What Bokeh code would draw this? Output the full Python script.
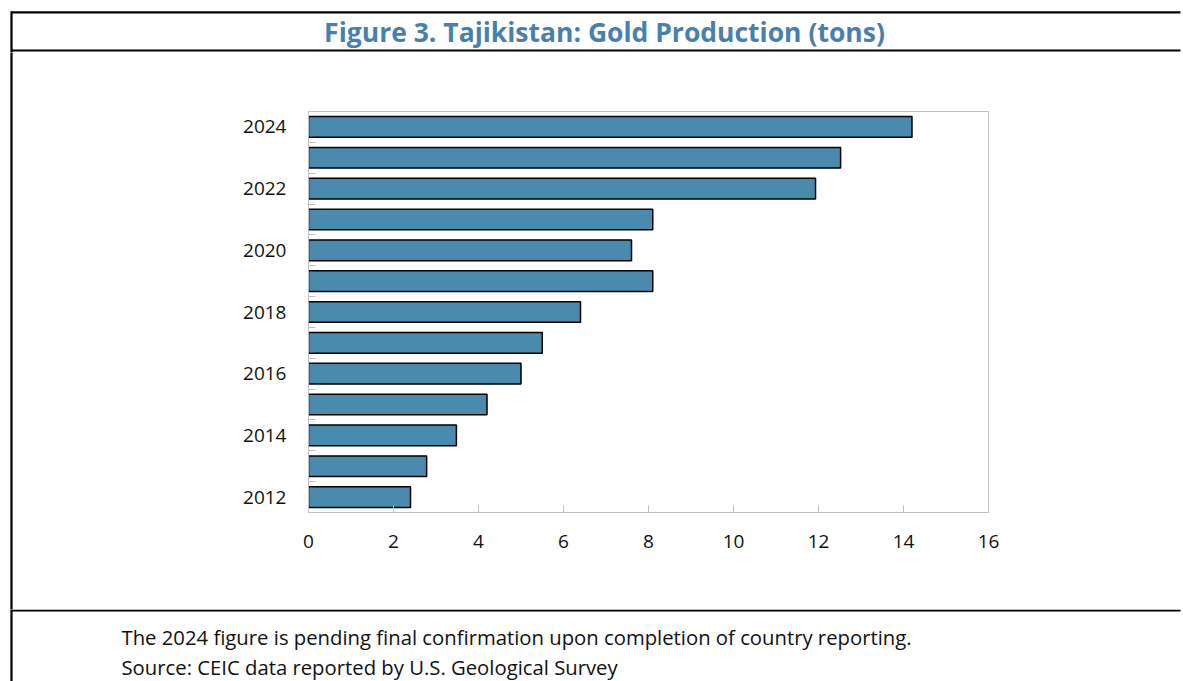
from bokeh.plotting import figure
from bokeh.layouts import column, row
from bokeh.models import Range1d, FixedTicker, ColumnDataSource
from bokeh.core.properties import value
from bokeh.embed import file_html
from bokeh.resources import INLINE

years = [2012, 2013, 2014, 2015, 2016, 2017, 2018, 2019, 2020, 2021, 2022, 2023, 2024]
gold_tons = [2.4, 2.78, 3.48, 4.2, 5.0, 5.5, 6.4, 8.1, 7.6, 8.1, 11.93, 12.52, 14.2]
y_tick_years = [2012, 2014, 2016, 2018, 2020, 2022, 2024]
x_ticks = [0, 2, 4, 6, 8, 10, 12, 14, 16]
title_text = "Figure 3. Tajikistan: Gold Production (tons)"
note_lines = [
    "The 2024 figure is pending final confirmation upon completion of country reporting.",
    "Source: CEIC data reported by U.S. Geological Survey",
]

FONT = "Open Sans"
BAR = "#4a8aad"
TITLE_C = "#4a7fab"
GRID = "#bfbfbf"
TXT = "#111111"
LW = 2.2

W = 1183
SW = W           # width of the title / footnote strips
LINE_END = W - 3 # horizontal rules stop just short of the right edge
TOP_H = 52       # title strip: page y 0..52
MAIN_H = 557     # chart strip: page y 52..609
FOOT_H = 72      # footnote strip: page y 609..681
STRIP_W = 20     # left border strip beside the chart
BORDER_X = 11


def canvas_fig(w, h):
    f = figure(width=w, height=h, output_backend="svg", toolbar_location=None,
               x_range=Range1d(0, w), y_range=Range1d(h, 0),
               x_axis_type=None, y_axis_type=None,
               min_border=0, min_border_left=0, min_border_right=0,
               min_border_top=0, min_border_bottom=0, frame_align=False)
    f.grid.visible = False
    f.outline_line_color = None
    f.background_fill_color = "white"
    f.border_fill_color = "white"
    return f


# --- title strip
top = canvas_fig(SW, TOP_H)
top.segment(x0=[BORDER_X, BORDER_X], y0=[11.8, 50.0], x1=[LINE_END, LINE_END], y1=[11.8, 50.0],
            line_color="black", line_width=LW)
top.segment(x0=[BORDER_X], y0=[10.8], x1=[BORDER_X], y1=[TOP_H + 5],
            line_color="black", line_width=LW)
top.text(x=[604], y=[31.5], text=[title_text], text_align="center",
         text_baseline="middle", text_font=value(FONT), text_font_style="bold",
         text_font_size="26.5px", text_color=TITLE_C)

# --- left border strip beside the chart
strip = canvas_fig(STRIP_W, MAIN_H)
strip.segment(x0=[BORDER_X], y0=[-5], x1=[BORDER_X], y1=[MAIN_H + 5],
              line_color="black", line_width=LW)

# --- main chart
ML = 308 - STRIP_W
MR = W - 988
MT = 111 - TOP_H
MB = (TOP_H + MAIN_H) - 512

p = figure(width=W - STRIP_W, height=MAIN_H, output_backend="svg", toolbar_location=None,
           x_range=Range1d(0, 16), y_range=Range1d(2011.5, 2024.5),
           min_border_left=ML, min_border_right=MR, min_border_top=MT, min_border_bottom=MB,
           frame_align=False)
p.xgrid.visible = False
p.ygrid.visible = False
p.outline_line_color = GRID
p.outline_line_width = 1
p.background_fill_color = "white"
p.border_fill_color = "white"

src = ColumnDataSource(dict(y=years, v=gold_tons))
p.hbar(y="y", right="v", left=0, height=0.67, source=src,
       fill_color=BAR, line_color="black", line_width=1.5)

p.xaxis.ticker = FixedTicker(ticks=x_ticks)
p.xaxis.axis_line_color = GRID
p.xaxis.major_tick_line_color = GRID
p.xaxis.major_tick_in = 7
p.xaxis.major_tick_out = 0
p.xaxis.minor_tick_line_color = None
p.xaxis.major_label_text_font = FONT
p.xaxis.major_label_text_font_size = "19px"
p.xaxis.major_label_text_color = TXT
p.xaxis.major_label_standoff = 22

p.yaxis.ticker = FixedTicker(ticks=y_tick_years,
                             minor_ticks=[y + 0.5 for y in years[:-1]])
p.yaxis.axis_line_color = GRID
p.yaxis.major_tick_line_color = None
p.yaxis.major_tick_in = 0
p.yaxis.major_tick_out = 0
p.yaxis.minor_tick_line_color = GRID
p.yaxis.minor_tick_in = 7
p.yaxis.minor_tick_out = 0
p.yaxis.major_label_text_font = FONT
p.yaxis.major_label_text_font_size = "19px"
p.yaxis.major_label_text_color = TXT
p.yaxis.major_label_standoff = 22

# --- footnote strip
foot = canvas_fig(SW, FOOT_H)
foot.segment(x0=[BORDER_X], y0=[1.0], x1=[LINE_END], y1=[1.0],
             line_color="black", line_width=LW)
foot.segment(x0=[BORDER_X], y0=[-5], x1=[BORDER_X], y1=[FOOT_H + 5],
             line_color="black", line_width=LW)
foot.text(x=[121, 121], y=[636 - 609, 666 - 609], text=note_lines, text_align="left",
          text_baseline="middle", text_font=value(FONT), text_font_size="20.3px",
          text_color=TXT)

layout = column(top, row(strip, p, spacing=0), foot, spacing=0)
open("out.html", "w").write(file_html(layout, INLINE))
